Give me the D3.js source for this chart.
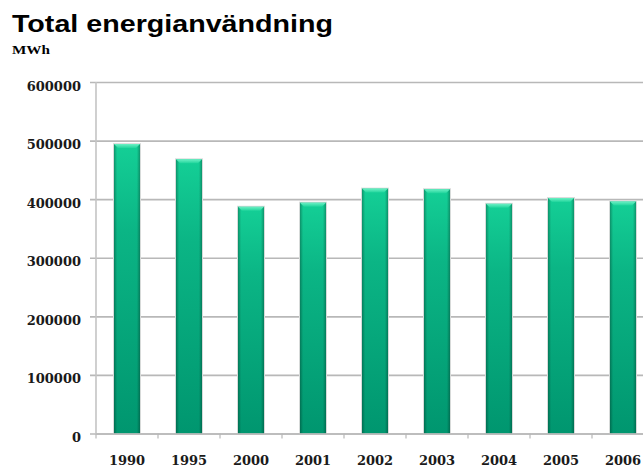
<!DOCTYPE html>
<html>
<head>
<meta charset="utf-8">
<script src="https://cdn.jsdelivr.net/npm/d3@7"></script>
<style>
  body { margin: 0; background: #fff; overflow: hidden; }
  svg { display: block; }
</style>
</head>
<body>
<div id="chart"></div>
<script>
const years = ['1990', '1995', '2000', '2001', '2002', '2003', '2004', '2005', '2006'];
const energy = [494000, 468000, 387000, 394000, 418000, 417000, 392000, 402000, 396000];
const yTicks = [0, 100000, 200000, 300000, 400000, 500000, 600000];
const title = 'Total energianvändning';
const unit = 'MWh';

const chartWidth = 643;
const chartHeight = 470;
const plotLeft = 96;
const plotTop = 82;
const plotBottom = 433.5;

const svg = d3.select('#chart')
  .append('svg')
  .attr('width', chartWidth)
  .attr('height', chartHeight);

const defs = svg.append('defs');

const vGrad = defs.append('linearGradient')
  .attr('id', 'barFill')
  .attr('x1', 0).attr('y1', 0).attr('x2', 0).attr('y2', 1);
vGrad.append('stop').attr('offset', '0%').attr('stop-color', '#14cf96');
vGrad.append('stop').attr('offset', '30%').attr('stop-color', '#0bb585');
vGrad.append('stop').attr('offset', '100%').attr('stop-color', '#00966f');

const hGrad = defs.append('linearGradient')
  .attr('id', 'barEdge')
  .attr('x1', 0).attr('y1', 0).attr('x2', 1).attr('y2', 0);
hGrad.append('stop').attr('offset', '0%').attr('stop-color', '#000').attr('stop-opacity', 0.28);
hGrad.append('stop').attr('offset', '12%').attr('stop-color', '#000').attr('stop-opacity', 0);
hGrad.append('stop').attr('offset', '88%').attr('stop-color', '#000').attr('stop-opacity', 0);
hGrad.append('stop').attr('offset', '100%').attr('stop-color', '#000').attr('stop-opacity', 0.28);

const topGrad = defs.append('linearGradient')
  .attr('id', 'barTop')
  .attr('x1', 0).attr('y1', 0).attr('x2', 0).attr('y2', 1);
topGrad.append('stop').attr('offset', '0%').attr('stop-color', '#6cf0c4');
topGrad.append('stop').attr('offset', '100%').attr('stop-color', '#20d59c');

const x = d3.scaleBand()
  .domain(years)
  .range([plotLeft, plotLeft + 62 * years.length])
  .paddingInner(0.58)
  .paddingOuter(0.29);

const y = d3.scaleLinear()
  .domain([0, 600000])
  .range([plotBottom, plotTop]);

// gridlines
const yAxis = d3.axisLeft(y)
  .tickValues(yTicks)
  .tickSize(-(x.range()[1] - plotLeft))
  .tickPadding(15)
  .tickFormat(d3.format('d'));

const gy = svg.append('g')
  .attr('transform', `translate(${plotLeft}, 0)`)
  .call(yAxis);
gy.select('.domain').remove();
gy.selectAll('.tick line')
  .attr('x1', -6)
  .attr('stroke', '#b8b8b8')
  .attr('stroke-width', 1.6);
gy.selectAll('.tick text')
  .attr('dy', 8)
  .attr('fill', '#1a1a1a')
  .style('font-family', '"DejaVu Serif", serif')
  .style('font-size', '13px')
  .style('font-weight', 'bold');

svg.append('line')
  .attr('x1', plotLeft).attr('x2', plotLeft)
  .attr('y1', plotTop).attr('y2', plotBottom)
  .attr('stroke', '#c4c4c4')
  .attr('stroke-width', 1.6);

// bars
const bars = svg.append('g')
  .selectAll('g')
  .data(years)
  .join('g');

bars.append('rect')
  .attr('x', d => x(d) - 1)
  .attr('y', (d, i) => y(energy[i]) - 1)
  .attr('width', x.bandwidth() + 2)
  .attr('height', (d, i) => plotBottom - y(energy[i]) + 1)
  .attr('fill', '#dcdcdc');

bars.append('rect')
  .attr('x', d => x(d))
  .attr('y', (d, i) => y(energy[i]))
  .attr('width', x.bandwidth())
  .attr('height', (d, i) => plotBottom - y(energy[i]))
  .attr('fill', 'url(#barFill)');

bars.append('rect')
  .attr('x', d => x(d))
  .attr('y', (d, i) => y(energy[i]))
  .attr('width', x.bandwidth())
  .attr('height', (d, i) => plotBottom - y(energy[i]))
  .attr('fill', 'url(#barEdge)');

bars.append('path')
  .attr('d', (d, i) => {
    const x0 = x(d), x1 = x(d) + x.bandwidth(), y0 = y(energy[i]);
    return `M${x0},${y0}L${x1},${y0}L${x1 - 4},${y0 + 4}L${x0 + 4},${y0 + 4}Z`;
  })
  .attr('fill', 'url(#barTop)');

// x axis
const xAxis = d3.axisBottom(x).tickSize(0).tickPadding(22);
const gx = svg.append('g')
  .attr('transform', `translate(0, ${plotBottom})`)
  .call(xAxis);
gx.select('.domain')
  .attr('stroke', '#b8b8b8')
  .attr('stroke-width', 1.6);
gx.selectAll('.tick text')
  .attr('fill', '#1a1a1a')
  .style('font-family', '"DejaVu Serif", serif')
  .style('font-size', '13px')
  .style('font-weight', 'bold');

svg.append('g')
  .selectAll('line')
  .data(d3.range(years.length + 1))
  .join('line')
  .attr('x1', i => plotLeft + x.step() * i)
  .attr('x2', i => plotLeft + x.step() * i)
  .attr('y1', plotBottom)
  .attr('y2', plotBottom + 5)
  .attr('stroke', '#b8b8b8')
  .attr('stroke-width', 1.2);

// titles
svg.append('text')
  .attr('x', 12)
  .attr('y', 31.5)
  .attr('textLength', 321)
  .attr('lengthAdjust', 'spacingAndGlyphs')
  .style('font-family', '"Liberation Sans", Arial, sans-serif')
  .style('font-size', '23px')
  .style('font-weight', 'bold')
  .attr('fill', '#000')
  .text(title);

svg.append('text')
  .attr('x', 12)
  .attr('y', 53.5)
  .attr('textLength', 38)
  .attr('lengthAdjust', 'spacingAndGlyphs')
  .style('font-family', '"Liberation Serif", serif')
  .style('font-size', '13px')
  .style('font-weight', 'bold')
  .attr('fill', '#000')
  .text(unit);
</script>
</body>
</html>
